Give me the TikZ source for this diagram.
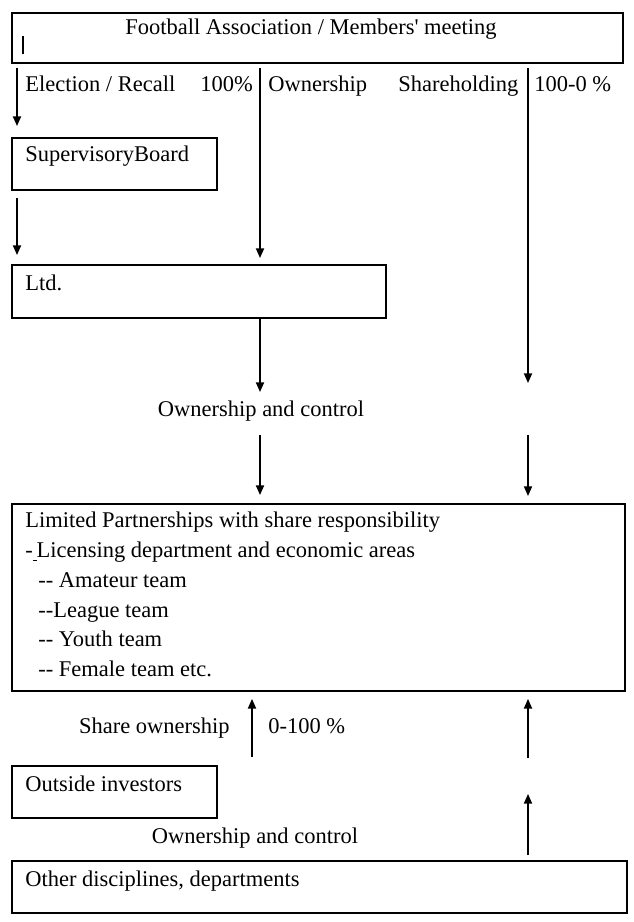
\documentclass[tikz,border=0pt]{standalone}
\usepackage{fontspec}
\setmainfont{Liberation Serif}
\newfontfamily\rawserif{Liberation Serif}
\usetikzlibrary{arrows.meta,positioning,calc}
\tikzset{
  box/.style={draw,line width=1.1pt,fill=white,anchor=north west,inner sep=0pt},
  txt/.style={inner sep=0pt,font=\fontsize{12.8}{15}\selectfont},
  ar/.style={-{Triangle[length=5.5pt,width=4.6pt]},line width=0.9pt},
}

\begin{document}
\begin{tikzpicture}[x=0.02cm,y=-0.02cm]
\useasboundingbox (0,0) rectangle (634,922);
% boxes
\node[box,minimum width=12.22cm,minimum height=1.0cm] (fa) at (11,12) {};
\node[box,minimum width=4.1cm,minimum height=1.04cm] (sb) at (11,137) {};
\node[box,minimum width=7.48cm,minimum height=1.06cm] (ltd) at (11,264) {};
\node[box,minimum width=12.26cm,minimum height=3.74cm] (lp) at (11,503) {};
\node[box,minimum width=4.1cm,minimum height=1.04cm] (oi) at (11,765) {};
\node[box,minimum width=12.3cm,minimum height=1.04cm] (od) at (11,860) {};
% box texts
\node[txt,anchor=base] (fat) at (311,35) {Football Association / Members{\rawserif'} meeting};
\draw[line width=1.3pt] (23,36) -- (23,54);
\node[txt,anchor=base west] (sbt) at (25,162) {SupervisoryBoard};
\node[txt,anchor=base west] (ltdt) at (25,290) {Ltd.};
\node[txt,anchor=north west,align=left,font=\fontsize{12.8}{16.9}\selectfont] (lpt) at (25,512)
  {Limited Partnerships with share responsibility\\
   -\underline{\,}Licensing department and economic areas\\
   \hspace*{0.26cm}-{}- Amateur team\\
   \hspace*{0.26cm}-{}-League team\\
   \hspace*{0.26cm}-{}- Youth team\\
   \hspace*{0.26cm}-{}- Female team etc.};
\node[txt,anchor=base west] (oit) at (25,791) {Outside investors};
\node[txt,anchor=base west] (odt) at (25,886) {Other disciplines, departments};
% labels
\node[txt,anchor=base west] (er) at (25,92) {Election / Recall};
\node[txt,anchor=base west] (pc) at (200,92) {100\%};
\node[txt,anchor=base west] (own) at (268,92) {Ownership};
\node[txt,anchor=base west] (sh) at (398,92) {Shareholding};
\node[txt,anchor=base west] (pc2) at (534,92) {100-0 \%};
\node[txt] (oc1) at (261,411) {Ownership and control};
\node[txt,anchor=base east] (so) at (230,733) {Share ownership};
\node[txt,anchor=base west] (pc3) at (268,733) {0-100 \%};
\node[txt] (oc2) at (255,838) {Ownership and control};
% columns
\coordinate (cl) at (17,0);
\coordinate (cm) at (260,0);
\coordinate (cr) at (528,0);
\coordinate (cb) at (252,0);
\coordinate (rm) at (oc1 -| cr);
\coordinate (rl) at (oi -| cr);
% arrows
\draw[ar,shorten <=0.08cm,shorten >=0.22cm] (fa.south -| cl) -- (sb.north -| cl);
\draw[ar,shorten <=0.14cm,shorten >=0.18cm] (sb.south -| cl) -- (ltd.north -| cl);
\draw[ar,shorten <=0.08cm,shorten >=0.12cm] (fa.south -| cm) -- (ltd.north -| cm);
\draw[ar,shorten >=0.38cm] (ltd.south -| cm) -- (oc1 -| cm);
\draw[ar,shorten <=0.48cm,shorten >=0.16cm] (oc1 -| cm) -- (lp.north -| cm);
\draw[ar,shorten <=0.08cm,shorten >=0.56cm] (fa.south -| cr) -- (rm);
\draw[ar,shorten <=0.48cm,shorten >=0.14cm] (rm) -- (lp.north -| cr);
\draw[ar,shorten <=0.16cm,shorten >=0.14cm] (oi.north -| cb) -- (lp.south -| cb);
\draw[ar,shorten <=0.68cm,shorten >=0.14cm] (rl) -- (lp.south -| cr);
\draw[ar,shorten <=0.1cm,shorten >=0.04cm] (od.north -| cr) -- (rl);
\end{tikzpicture}
\end{document}
